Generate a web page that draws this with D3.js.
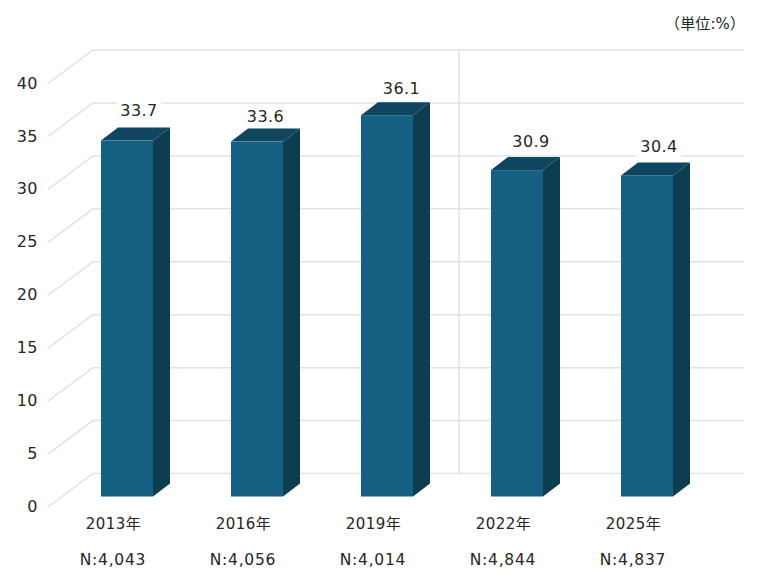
<!DOCTYPE html>
<html><head><meta charset="utf-8">
<script src="https://cdn.jsdelivr.net/npm/d3@7"></script>
<style>
html,body{margin:0;padding:0;background:#fff}
svg{display:block}
text{font-family:"DejaVu Sans","Noto Sans CJK JP",sans-serif;fill:#262626;font-size:16px;letter-spacing:.45px}
</style></head><body>
<script>
const years=["2013年","2016年","2019年","2022年","2025年"];
const samples=["N:4,043","N:4,056","N:4,014","N:4,844","N:4,837"];
const values=[33.7,33.6,36.1,30.9,30.4];
const ticks=[0,5,10,15,20,25,30,35,40];
const unit="（単位:%）";

const W=767,H=579;
const svg=d3.select("body").append("svg").attr("width",W).attr("height",H);
const yBack=d3.scaleLinear().domain([0,40]).range([473.5,50]);
const yFront=d3.scaleLinear().domain([0,40]).range([496.5,74]);
const x=d3.scaleBand().domain(years).range([62,712]).paddingInner(0.6).paddingOuter(0.3);
const depthX=17,depthY=13,grid="#e2e2e2";
const labelDx=[12,8.5,14.5,14,12],labelDy=[-30.5,-25.5,-26.5,-28.5,-29.5];

ticks.forEach(t=>{
  svg.append("path").attr("fill","none").attr("stroke",grid).attr("stroke-width",1.5)
    .attr("d",`M48,${yBack(t)+33.5}L93,${yBack(t)}L744,${yBack(t)}`);
  svg.append("text").attr("x",38).attr("y",yBack(t)+33).attr("dy","0.35em")
    .attr("text-anchor","end").text(t);
});
svg.append("line").attr("x1",459).attr("x2",459).attr("y1",yBack(40)).attr("y2",yBack(0))
  .attr("stroke",grid).attr("stroke-width",1.5);

values.forEach((v,i)=>{
  const X=x(years[i]),w=x.bandwidth(),top=yFront(v),bot=yFront(0);
  svg.append("path").attr("fill","#0f455f")
    .attr("d",`M${X},${top}L${X+depthX},${top-depthY}L${X+w+depthX},${top-depthY}L${X+w},${top}Z`);
  svg.append("path").attr("fill","#0c3d50")
    .attr("d",`M${X+w},${top}L${X+w+depthX},${top-depthY}L${X+w+depthX},${bot-depthY}L${X+w},${bot}Z`);
  svg.append("rect").attr("x",X).attr("y",top).attr("width",w).attr("height",bot-top).attr("fill","#156082");
  const lx=X+w/2+labelDx[i], ly=top+labelDy[i];
  svg.append("rect").attr("x",lx-22).attr("y",ly-11).attr("width",44).attr("height",22).attr("fill","#fff");
  svg.append("text").attr("x",lx).attr("y",ly).attr("dy","0.35em").attr("text-anchor","middle").text(v.toFixed(1));
  svg.append("text").attr("x",X+12.5).attr("y",524).attr("dy","0.35em").attr("text-anchor","middle").style("font-size","15px").text(years[i]);
  svg.append("text").attr("x",X+12).attr("y",560).attr("dy","0.35em").attr("text-anchor","middle").style("font-size","15.5px").style("letter-spacing",".75px").text(samples[i]);
});
svg.append("text").attr("x",745).attr("y",24).attr("dy","0.35em").attr("text-anchor","end").style("font-size","15px").style("letter-spacing",".1px").text(unit);
</script>
</body></html>
